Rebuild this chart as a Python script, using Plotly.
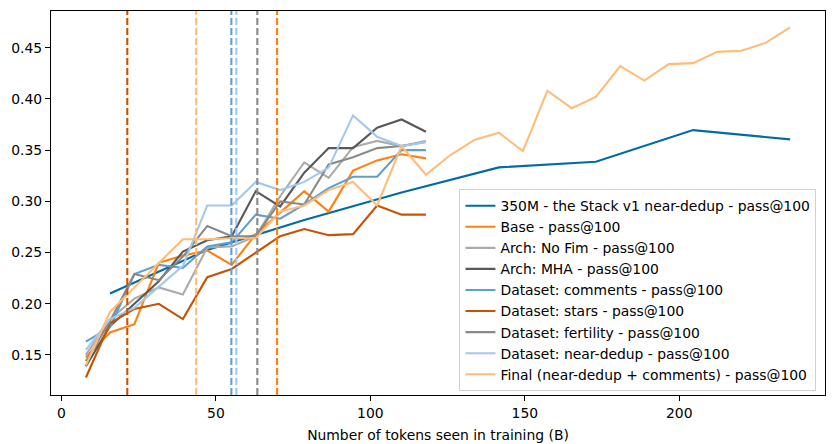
import plotly.graph_objects as go

# Tokens seen (B) at each evaluated checkpoint
tokens = [7.9, 15.7, 23.6, 31.5, 39.3, 47.2, 55.1, 62.9, 70.8, 78.6, 86.5, 94.4, 102.2, 110.1, 118.0]
tokens_final = [7.9, 15.7, 23.6, 31.5, 39.3, 47.2, 55.1, 62.9, 70.8, 78.6, 86.5, 94.4, 102.2, 110.1, 118.0,
                125.8, 133.7, 141.6, 149.4, 157.3, 165.2, 173.0, 180.9, 188.7, 196.6, 204.5, 212.3, 220.2, 228.1, 235.9]
tokens_350m = [15.7, 47.2, 78.6, 110.1, 141.6, 173.0, 204.5, 235.9]

pass_350m = [0.210, 0.2526, 0.2817, 0.3086, 0.3332, 0.3387, 0.3696, 0.3605]
pass_base = [0.148, 0.172, 0.180, 0.240, 0.247, 0.252, 0.238, 0.268, 0.289, 0.310, 0.290, 0.330, 0.340, 0.346, 0.342]
pass_nofim = [0.150, 0.185, 0.205, 0.216, 0.209, 0.255, 0.256, 0.266, 0.305, 0.338, 0.323, 0.353, 0.359, 0.354, 0.359]
pass_mha = [0.139, 0.178, 0.200, 0.222, 0.251, 0.262, 0.266, 0.310, 0.295, 0.328, 0.352, 0.352, 0.372, 0.380, 0.368]
pass_comments = [0.163, 0.177, 0.229, 0.238, 0.235, 0.256, 0.260, 0.287, 0.283, 0.297, 0.313, 0.324, 0.324, 0.350, 0.350]
pass_stars = [0.128, 0.181, 0.195, 0.200, 0.185, 0.226, 0.234, 0.250, 0.266, 0.273, 0.267, 0.268, 0.296, 0.287, 0.287]
pass_fertility = [0.144, 0.183, 0.229, 0.223, 0.246, 0.276, 0.266, 0.266, 0.300, 0.297, 0.336, 0.343, 0.352, 0.354, 0.358]
pass_neardedup = [0.155, 0.185, 0.196, 0.217, 0.237, 0.296, 0.296, 0.319, 0.311, 0.319, 0.333, 0.384, 0.363, 0.354, 0.358]
pass_final = [0.140, 0.192, 0.216, 0.240, 0.263, 0.263, 0.264, 0.264, 0.290, 0.296, 0.311, 0.319, 0.296, 0.354, 0.326,
              0.345, 0.360, 0.367, 0.349, 0.408, 0.391, 0.402, 0.432, 0.418, 0.434, 0.435, 0.446, 0.447, 0.455, 0.470]

series_names = [
    "350M - the Stack v1 near-dedup - pass@100",
    "Base - pass@100",
    "Arch: No Fim - pass@100",
    "Arch: MHA - pass@100",
    "Dataset: comments - pass@100",
    "Dataset: stars - pass@100",
    "Dataset: fertility - pass@100",
    "Dataset: near-dedup - pass@100",
    "Final (near-dedup + comments) - pass@100",
]
series_x = [tokens_350m, tokens, tokens, tokens, tokens, tokens, tokens, tokens, tokens_final]
series_y = [pass_350m, pass_base, pass_nofim, pass_mha, pass_comments, pass_stars,
            pass_fertility, pass_neardedup, pass_final]
colors = ["#006BA4", "#FF800E", "#ABABAB", "#595959", "#5F9ED1", "#C85200",
          "#898989", "#A2C8EC", "#FFBC79"]

# vertical dashed markers (tokens, B) and their colors
vline_x = [21.3, 43.6, 55.0, 56.6, 63.4, 69.8]
vline_colors = ["#C85200", "#FFBC79", "#5F9ED1", "#A2C8EC", "#898989", "#FF800E"]

x_ticks = [0, 50, 100, 150, 200]
y_ticks = [0.15, 0.20, 0.25, 0.30, 0.35, 0.40, 0.45]

FONT = "DejaVu Sans"
fig = go.Figure()
for name, xs, ys, c in zip(series_names, series_x, series_y, colors):
    fig.add_trace(go.Scatter(x=xs, y=ys, mode="lines", name=name,
                             line=dict(color=c, width=2.1)))

for xv, c in zip(vline_x, vline_colors):
    fig.add_shape(type="line", xref="x", yref="paper", x0=xv, x1=xv, y0=0, y1=1,
                  line=dict(color=c, width=2.1, dash="7px,3px"), layer="above")

axis_common = dict(showline=True, linecolor="black", linewidth=1.1, mirror=True,
                   ticks="outside", ticklen=5, tickwidth=1.1, tickcolor="black",
                   showgrid=False, zeroline=False, automargin=False,
                   tickfont=dict(family=FONT, size=13.9, color="black"))

fig.update_layout(
    width=835, height=444,
    margin=dict(l=51, r=10, t=11, b=49),
    paper_bgcolor="white", plot_bgcolor="white",
    font=dict(family=FONT, size=13.9, color="black"),
    xaxis=dict(range=[-3.4, 247.2], tickvals=x_ticks,
               title=dict(text="Number of tokens seen in training (B)",
                          font=dict(family=FONT, size=13.9, color="black"), standoff=10),
               **axis_common),
    yaxis=dict(range=[0.1109, 0.4859], tickvals=y_ticks, tickformat=".2f", **axis_common),
    legend=dict(x=0.5277, y=0.010, xanchor="left", yanchor="bottom",
                bgcolor="rgba(255,255,255,0.8)", bordercolor="#d0d0d0", borderwidth=1,
                font=dict(family=FONT, size=13.9, color="black"),
                tracegroupgap=0, itemwidth=30),
)

fig.write_html("out.html", config={"displayModeBar": False},
               post_script="document.body.style.margin='0';document.body.style.padding='0';")
